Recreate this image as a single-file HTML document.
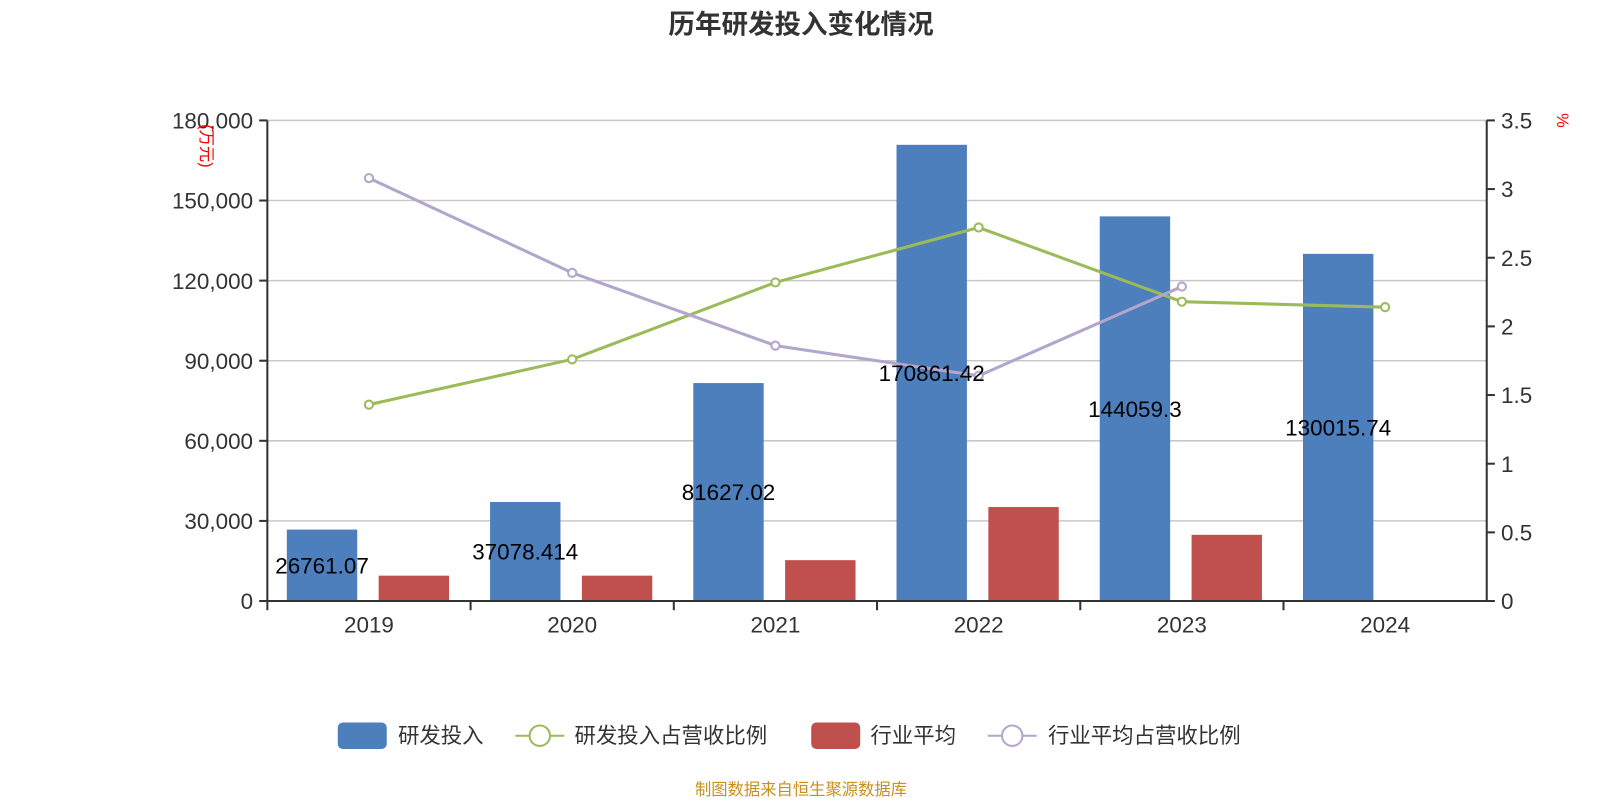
<!DOCTYPE html>
<html><head><meta charset="utf-8"><style>
body{margin:0;background:#fff}
svg{display:block;font-family:"Liberation Sans","Noto Sans CJK SC",sans-serif}
</style></head><body>
<svg id="chart" width="1600" height="800" viewBox="0 0 1568 784">
<text x="785" y="33" text-anchor="middle" font-size="26" font-weight="bold" fill="#333">历年研发投入变化情况</text>
<g id="grid"></g><g id="bars"></g><g id="lines"></g><g id="axes"></g>
<text transform="translate(197,143) rotate(90)" text-anchor="middle" font-size="16" fill="red">(万元)</text>
<text transform="translate(1526,118) rotate(90)" text-anchor="middle" font-size="16" fill="red">%</text>
<g>
<rect x="331" y="708" width="48" height="26" rx="5" fill="#4e7fbd"/>
<text x="390" y="728" font-size="21" fill="#333">研发投入</text>
<line x1="505" y1="721" x2="553" y2="721" stroke="#9bbb59" stroke-width="2"/>
<circle cx="529" cy="721" r="10" fill="#fff" stroke="#9bbb59" stroke-width="2"/>
<text x="563" y="728" font-size="21" fill="#333">研发投入占营收比例</text>
<rect x="795" y="708" width="48" height="26" rx="5" fill="#c0504d"/>
<text x="853" y="728" font-size="21" fill="#333">行业平均</text>
<line x1="968" y1="721" x2="1016" y2="721" stroke="#b3a6cc" stroke-width="2"/>
<circle cx="992" cy="721" r="10" fill="#fff" stroke="#b3a6cc" stroke-width="2"/>
<text x="1027" y="728" font-size="21" fill="#333">行业平均占营收比例</text>
</g>
<text x="785" y="779" text-anchor="middle" font-size="16" fill="#c8901c">制图数据来自恒生聚源数据库</text>
</svg>
<script>
const categories=["2019","2020","2021","2022","2023","2024"];
const rdValues=[26761.07,37078.414,81627.02,170861.42,144059.3,130015.74];
const rdLabels=["26761.07","37078.414","81627.02","170861.42","144059.3","130015.74"];
const industryValues=[9500,9500,15300,35200,24800,null];
const rdRatio=[1.43,1.76,2.32,2.72,2.18,2.14];
const industryRatio=[3.08,2.39,1.86,1.64,2.29,null];
const leftTicks=[0,30000,60000,90000,120000,150000,180000];
const rightTicks=[0,0.5,1,1.5,2,2.5,3,3.5];

const NS="http://www.w3.org/2000/svg";
const L=262,R=1457,T=118,B=589;
const yL=v=>B-(v/180000)*(B-T);
const yR=v=>B-(v/3.5)*(B-T);
const band=(R-L)/categories.length;
const xC=i=>L+band*(i+0.5);
function mk(tag,attrs,parent,text){const e=document.createElementNS(NS,tag);for(const k in attrs)e.setAttribute(k,attrs[k]);if(text!==undefined)e.textContent=text;document.getElementById(parent).appendChild(e);return e;}
leftTicks.forEach(t=>{
 const y=yL(t);
 const g=mk('line',{x1:L,x2:R,y1:y,y2:y,stroke:'#c8c8c8','stroke-width':1.5},'grid');
 
 
 const tk=mk('line',{x1:L-8,x2:L,y1:y,y2:y,stroke:'#333','stroke-width':2},'axes');
 
 
 const tx=mk('text',{x:L-14,y:y+8,'text-anchor':'end','font-size':22,fill:'#333'},'axes',t.toLocaleString('en-US'));
 
 
});
rightTicks.forEach(t=>{
 const y=yR(t);
 const tk=mk('line',{x1:R,x2:R+8,y1:y,y2:y,stroke:'#333','stroke-width':2},'axes');
 
 
 const tx=mk('text',{x:R+14,y:y+8,'font-size':22,fill:'#333'},'axes',String(t));
 
 
});
[[L,T,L,B+1],[R,T,R,B+1],[L,B,R,B]].forEach(a=>{
 const l=mk('line',{x1:a[0],y1:a[1],x2:a[2],y2:a[3],stroke:'#333','stroke-width':2},'axes');
 
 
});
categories.forEach((c,i)=>{
 const xt=L+band*i;
 const tk=mk('line',{x1:xt,x2:xt,y1:B,y2:B+9,stroke:'#333','stroke-width':2},'axes');
 
 
 const tx=mk('text',{x:xC(i),y:B+31,'text-anchor':'middle','font-size':22,fill:'#333'},'axes',c);
 
 
 const bw=69;
 const bx=xC(i)-46-bw/2;
 const b=mk('rect',{x:bx,y:yL(rdValues[i]),width:bw,height:B-yL(rdValues[i]),fill:'#4e7fbd'},'bars');
 
 
 if(industryValues[i]!=null){
  const r=mk('rect',{x:xC(i)+44-bw/2,y:yL(industryValues[i]),width:bw,height:B-yL(industryValues[i]),fill:'#c0504d'},'bars');
  
  
 }
});
function line(vals,color,name){
 const pts=[];vals.forEach((v,i)=>{if(v!=null)pts.push([xC(i),yR(v)]);});
 const p=mk('polyline',{points:pts.map(p=>p.join(',')).join(' '),fill:'none',stroke:color,'stroke-width':3},'lines');
 
 
 pts.forEach(q=>{
  const c=mk('circle',{cx:q[0],cy:q[1],r:4,fill:'#fff',stroke:color,'stroke-width':2},'lines');
  
  
 });
}
line(rdRatio,'#9bbb59','rd-ratio');
line(industryRatio,'#b3a6cc','industry-ratio');
categories.forEach((c,i)=>{
 const y=(yL(rdValues[i])+B)/2;
 const t=mk('text',{x:xC(i)-46,y:y+8,'text-anchor':'middle','font-size':22,fill:'#000'},'lines',rdLabels[i]);
 
 
});
</script>
</body></html>
